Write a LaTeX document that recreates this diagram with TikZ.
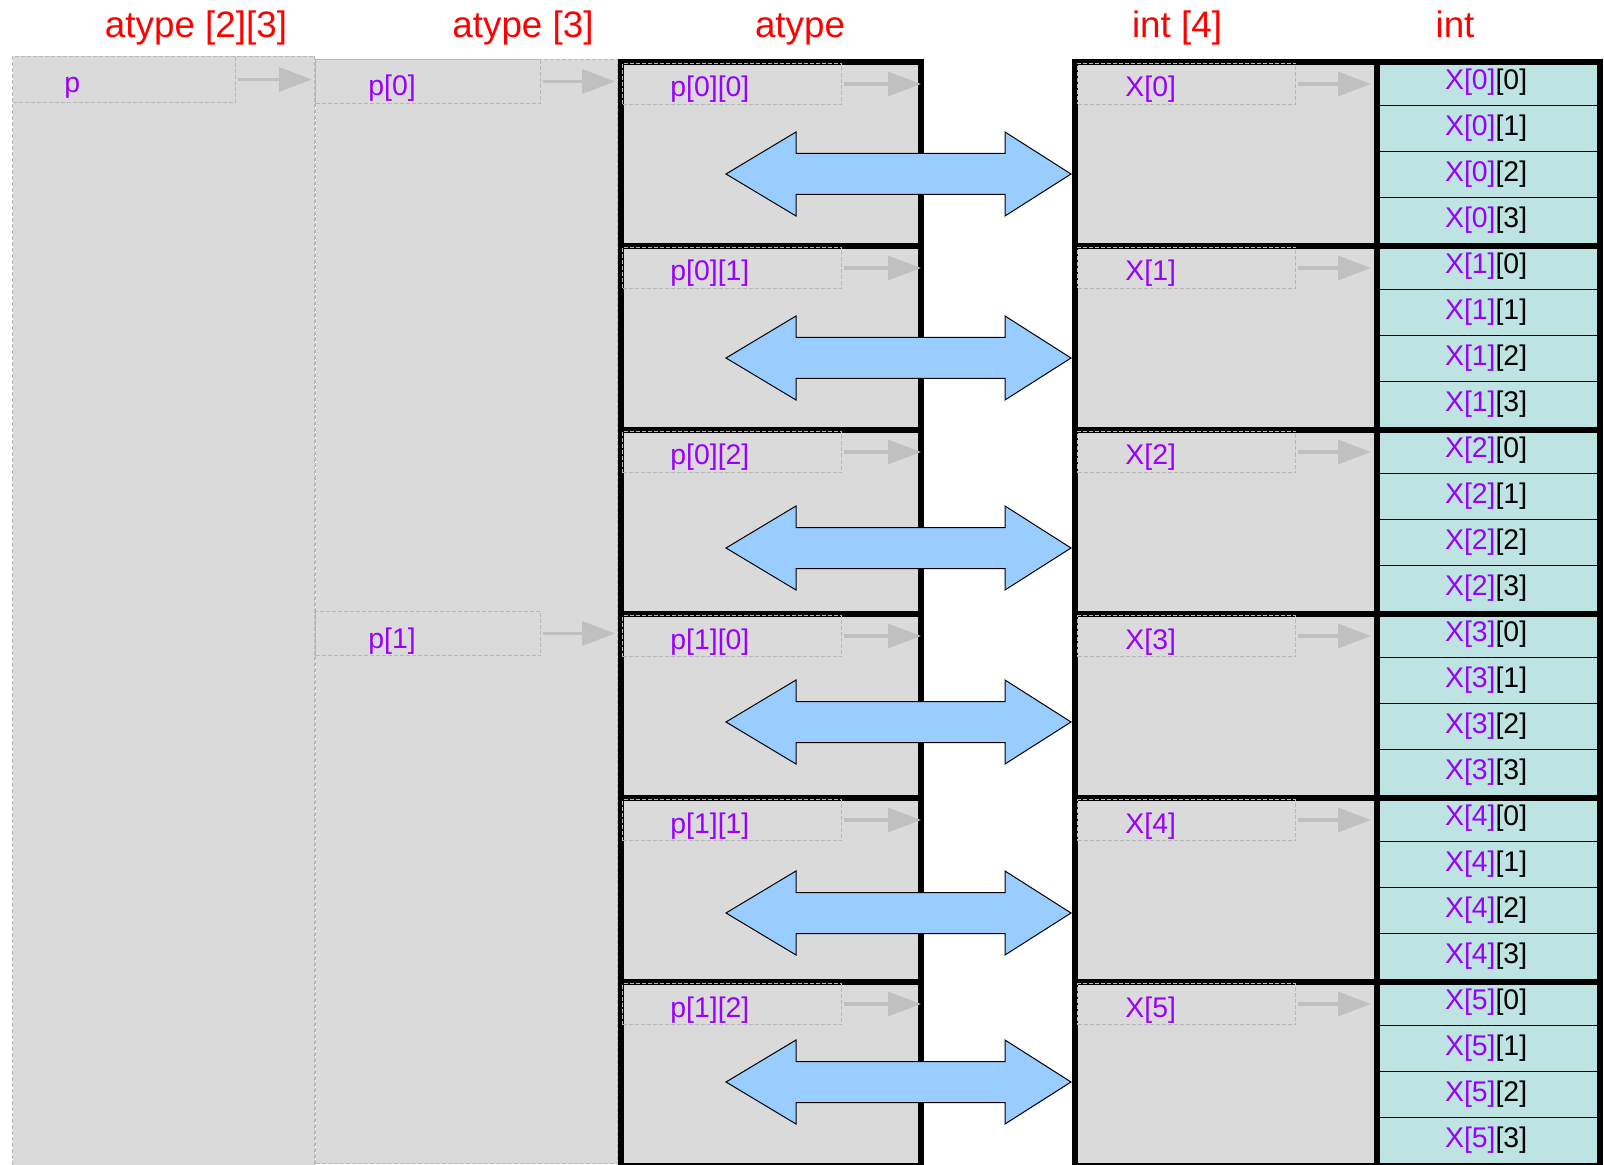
\documentclass[tikz,border=0pt]{standalone}
\usepackage{fontspec}
\setmainfont{Liberation Sans}
\usetikzlibrary{arrows.meta}
\definecolor{cellgray}{HTML}{DADADA}
\definecolor{dashgray}{HTML}{B8B8B8}
\definecolor{ptrgray}{HTML}{C0C0C0}
\definecolor{intcyan}{HTML}{BDE3E3}
\definecolor{idxpurple}{HTML}{9900FF}
\definecolor{dblblue}{HTML}{99CCFF}
\tikzset{
  title/.style={text=red, font=\fontsize{18.4}{22}\selectfont, anchor=base, inner sep=0pt},
  colbox/.style={draw=dashgray, dash pattern=on 2pt off 1pt, line width=0.5pt, fill=cellgray, anchor=north west, inner sep=0pt},
  ptrcell/.style={draw=dashgray, dash pattern=on 2pt off 1pt, line width=0.5pt, anchor=north west, inner sep=0pt},
  ptrlabel/.style={anchor=base west, text=idxpurple, font=\fontsize{14.2}{16}\selectfont, inner sep=0pt},
  ptrarrow/.style={draw=ptrgray, line width=1.7pt, -{Triangle[length=16.5pt,width=12pt]}, shorten <=1pt, shorten >=1.5pt},
  blkbox/.style={draw=black, line width=3pt, fill=cellgray, anchor=north west, inner sep=0pt},
  intcell/.style={draw=black, line width=0.6pt, fill=intcyan, anchor=north west, minimum width=111.5pt, minimum height=23pt, inner sep=0pt, font=\fontsize{14.2}{16}\selectfont},
  dblarrow/.style={draw=black, line width=0.5pt, fill=dblblue},
}
\begin{document}
\begin{tikzpicture}[x=0.5pt, y=-0.5pt]
\useasboundingbox[fill=white] (0,0) rectangle (1604,1165);

\node[title] (t-a) at (196,38) {atype [2][3]};
\node[title] (t-b) at (523,38) {atype [3]};
\node[title] (t-c) at (800,38) {atype};
\node[title] (t-d) at (1177,38) {int [4]};
\node[title] (t-e) at (1455,38) {int};

\node[colbox, minimum width=151pt, minimum height=556pt] (colA) at (12,56) {};
\node[colbox, minimum width=151pt, minimum height=552pt] (colB) at (315,59) {};

\node[ptrcell, minimum width=111.5pt, minimum height=23pt] (p) at (12,56) {};
\node[ptrlabel] (p-lbl) at (64,93) {p};
\draw[ptrarrow] (p.east) -- (p.east -| colB.west);

\node[ptrcell, minimum width=112.5pt, minimum height=22pt] (p0) at (315,59) {};
\node[ptrlabel] (p0-lbl) at (368,96) {p[0]};
\node[ptrcell, minimum width=112.5pt, minimum height=22pt] (p1) at (315,611) {};
\node[ptrlabel] (p1-lbl) at (368,648) {p[1]};

\foreach \i in {0,...,5} {
  \pgfmathtruncatemacro{\T}{59+184*\i}
  \pgfmathtruncatemacro{\a}{int(\i/3)}
  \pgfmathtruncatemacro{\b}{mod(\i,3)}
  \node[blkbox, minimum width=150pt, minimum height=92pt] (c-\i) at (618,\T) {};
  \node[ptrcell, minimum width=109.5pt, minimum height=20.5pt] (pc-\i) at (622,\T+4) {};
  \node[ptrlabel] (pc-lbl-\i) at (670,\T+38) {p[\a][\b]};
  \draw[ptrarrow] (pc-\i.east) -- (pc-\i.east -| c-\i.east);
}
\draw[ptrarrow] (p0.east) -- (p0.east -| c-0.west);
\draw[ptrarrow] (p1.east) -- (p1.east -| c-3.west);

\foreach \i/\yy in {0/174,1/358,2/548,3/722,4/913,5/1082} {
  \draw[dblarrow] (726,\yy) -- (796,\yy-42) -- (796,\yy-20.5) -- (1005,\yy-20.5) -- (1005,\yy-42)
    -- (1071,\yy) -- (1005,\yy+42) -- (1005,\yy+20.5) -- (796,\yy+20.5) -- (796,\yy+42) -- cycle;
}

\foreach \i in {0,...,5} {
  \pgfmathtruncatemacro{\T}{59+184*\i}
  \node[blkbox, minimum width=151pt, minimum height=92pt] (d-\i) at (1072,\T) {};
  \node[ptrcell, minimum width=109pt, minimum height=20.5pt] (px-\i) at (1077,\T+4) {};
  \node[ptrlabel] (px-lbl-\i) at (1125,\T+38) {X[\i]};
  \foreach \j in {0,...,3} {
    \node[intcell] (e-\i-\j) at (1374,\T+46*\j) {{\color{idxpurple}X[\i]}[\j]};
  }
  \node[blkbox, fill=none, minimum width=111.5pt, minimum height=92pt] (e-\i) at (1374,\T) {};
  \draw[ptrarrow] (px-\i.east) -- (px-\i.east -| e-\i.west);
}
\end{tikzpicture}
\end{document}
